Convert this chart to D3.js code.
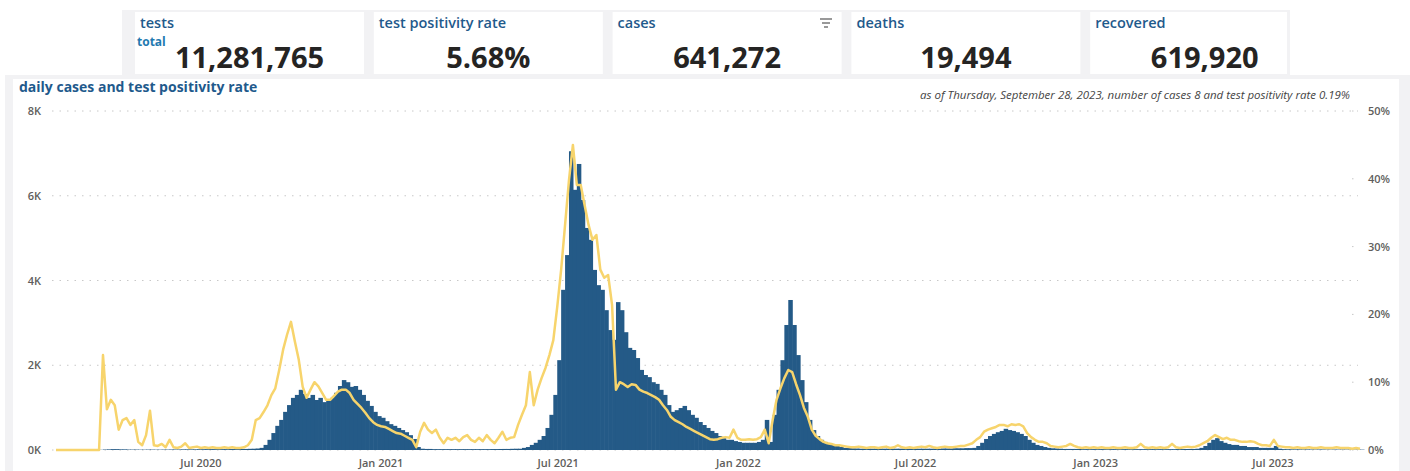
<!DOCTYPE html>
<html>
<head>
<meta charset="utf-8">
<script src="https://cdn.jsdelivr.net/npm/d3@7"></script>
<style>
body { margin: 0; background: #fff; font-family: "Open Sans", sans-serif; }
</style>
</head>
<body>
<div id="chart"></div>
<script>
// kpi cards
var cardTitles = ["tests", "test positivity rate", "cases", "deaths", "recovered"];
var cardValues = ["11,281,765", "5.68%", "641,272", "19,494", "619,920"];

// daily series, one reading every 4 days from 4 Feb 2020
var startDate = new Date(2020, 1, 4);
var stepDays = 4;

var cases = [
  0,0,0,0,0,0,0,0,0,0,0,
  5,10,15,20,20,15,15,10,10,10,
  8,8,10,10,8,8,10,10,12,12,
  12,15,15,15,15,18,18,20,20,20,
  20,20,20,22,22,22,25,25,28,30,
  35,50,120,240,400,570,710,900,1060,1230,
  1300,1420,1320,1230,1300,1180,1230,1130,1180,1230,
  1350,1510,1650,1600,1490,1510,1420,1300,1160,1040,
  900,800,760,680,610,570,520,470,420,350,
  260,70,30,25,25,20,20,20,20,20,
  20,20,20,20,20,20,20,20,20,20,
  22,22,24,25,25,28,30,30,50,70,
  120,170,240,330,520,830,1300,2120,3780,4600,
  7050,6140,6750,5900,5240,4960,4250,3890,3780,3300,
  2830,2600,3490,3300,2780,2410,2360,2170,1890,1770,
  1720,1600,1560,1420,1300,1060,900,940,990,1040,
  940,830,760,660,590,520,450,400,330,280,
  240,240,210,190,170,170,170,170,190,240,
  710,190,830,1420,2120,2950,3540,2950,2240,1650,
  1130,710,470,330,240,190,140,120,95,70,
  50,45,40,35,30,30,30,30,30,30,
  30,30,30,30,30,30,30,30,30,30,
  30,30,30,30,30,35,35,35,40,40,
  40,45,45,50,95,170,260,330,380,420,
  450,500,470,450,420,380,330,240,170,120,
  95,70,50,40,35,30,25,25,25,25,
  25,20,20,20,20,20,20,20,20,20,
  20,20,20,20,20,20,20,20,20,20,
  20,20,20,20,20,22,22,24,25,25,
  30,50,95,170,240,280,210,170,140,120,
  120,95,95,70,70,70,50,50,50,50,
  95,30,20,18,16,15,15,14,14,12,
  12,12,12,10,10,10,10,10,10,9,
  9,8,8
];

var positivity = [
  0,0,0,0,0,0,0,0,0,0,0,0,
  14,6,7.4,6.6,3,4.4,4.7,3.7,4.4,
  1.2,0.7,2.2,5.8,0.7,0.6,0.9,0.4,1.5,0.4,
  0.3,0.5,1.0,0.3,0.4,0.5,0.3,0.4,0.3,0.4,
  0.3,0.3,0.4,0.3,0.4,0.3,0.3,0.4,0.7,1.5,
  4.4,4.7,5.6,6.6,8.1,9.1,11.8,14.8,17.0,18.9,
  16,13.3,9.3,7.7,8.9,10,9.4,8.4,7.4,7.4,
  8,8.6,8.9,8.9,8.4,7.4,6.8,6.2,5.5,4.7,
  4.1,3.7,3.5,3.4,3.1,2.8,2.5,2.4,2.1,1.8,
  1.5,0.4,2.7,4.0,3.0,2.5,3.0,1.8,1.0,1.8,
  1.5,1.8,1.3,1.9,2.2,1.5,1.2,1.8,1.3,2.2,
  1.5,1.0,1.8,2.7,1.5,1.8,1.9,3.7,5.2,6.6,
  11.5,6.6,8.9,10.6,12.1,14.0,16.2,21.1,26.6,33.2,
  39.8,45.0,39.1,39.1,36.1,33.2,31,31.7,26.6,25.4,
  25.8,21.4,8.9,10,9.7,9.3,9.7,9.6,8.9,8.6,
  8.4,8.1,7.8,7.4,6.6,5.9,4.9,4.4,4.1,3.8,
  3.4,3.1,2.8,2.5,2.2,1.9,1.6,1.5,1.6,1.8,
  1.9,1.8,3.0,1.8,1.5,1.5,1.6,1.5,1.6,1.9,
  3.0,1.0,4.4,7.4,9.1,10.6,11.8,11.5,9.7,8.1,
  6.2,4.9,3.0,2.1,1.6,1.2,1.0,0.9,0.7,0.7,
  0.6,0.5,0.4,0.4,0.5,0.4,0.3,0.4,0.4,0.3,
  0.4,0.5,0.3,0.4,0.7,0.4,0.3,0.4,0.3,0.4,
  0.5,0.4,0.6,0.4,0.3,0.4,0.5,0.4,0.4,0.5,
  0.6,0.6,0.8,1.0,1.5,1.9,2.7,3.0,3.2,3.4,
  3.7,3.7,3.5,3.8,3.7,3.8,3.5,2.5,1.9,1.5,
  1.2,1.2,1.0,0.6,0.5,0.4,0.5,0.6,0.9,0.6,
  0.4,0.3,0.4,0.3,0.4,0.3,0.4,0.3,0.3,0.4,
  0.3,0.3,0.4,0.3,0.3,0.4,0.9,0.4,0.3,0.4,
  0.3,0.4,0.3,0.4,0.9,0.4,0.3,0.4,0.5,0.4,
  0.5,0.7,1.0,1.3,1.8,2.2,1.9,1.6,1.8,1.5,
  1.5,1.3,1.2,1.2,1.3,1.2,0.9,0.7,0.7,0.6,
  1.5,0.6,0.5,0.4,0.4,0.3,0.4,0.3,0.3,0.4,
  0.3,0.3,0.4,0.3,0.3,0.3,0.4,0.3,0.3,0.3,
  0.2,0.3,0.19
];

var caseTicks = [0, 2000, 4000, 6000, 8000];
var rateTicks = [0, 10, 20, 30, 40, 50];
var dateTicks = ["2020-07-01", "2021-01-01", "2021-07-01", "2022-01-01", "2022-07-01", "2023-01-01", "2023-07-01"];

var W = 1410, H = 471;
var blue = "#245a87", yellow = "#f7d46c", titleBlue = "#1f5a8c";

var svg = d3.select("#chart").append("svg")
  .attr("width", W).attr("height", H);

// backgrounds
svg.append("rect").attr("x", 122).attr("y", 10).attr("width", 1168).attr("height", 68).attr("fill", "#f2f2f4");
svg.append("rect").attr("x", 5).attr("y", 75).attr("width", W - 5).attr("height", H - 75).attr("fill", "#f2f2f4");
svg.append("rect").attr("x", 13).attr("y", 79).attr("width", 1386).attr("height", H - 79).attr("fill", "#fff");

// cards
var card = svg.selectAll("g.card")
  .data(cardTitles)
  .enter().append("g")
  .attr("class", "card")
  .attr("transform", function(d, i) { return "translate(" + (135 + i * 238.8) + ",12)"; });

card.append("rect")
  .attr("width", function(d, i) { return Math.min(229, 1287 - (135 + i * 238.8)); })
  .attr("height", 62).attr("fill", "#fff");

card.append("text")
  .attr("x", 5).attr("y", 16)
  .attr("fill", titleBlue)
  .style("font-size", "14.5px").style("font-weight", 600)
  .text(function(d) { return d; });

card.append("text")
  .attr("x", 114.5).attr("y", 56)
  .attr("text-anchor", "middle")
  .attr("fill", "#252423")
  .style("font-size", "29px").style("font-weight", 700)
  .text(function(d, i) { return cardValues[i]; });

svg.append("text").attr("x", 137).attr("y", 46)
  .attr("fill", "#1f7ab0").style("font-size", "12px").style("font-weight", 700)
  .text("total");

// filter icon on cases card
var fx = 826;
[[19, 12], [23, 8], [27, 4]].forEach(function(l) {
  svg.append("line").attr("x1", fx - l[1] / 2).attr("x2", fx + l[1] / 2)
    .attr("y1", l[0]).attr("y2", l[0]).attr("stroke", "#555").attr("stroke-width", 1.2);
});

// chart titles
svg.append("text").attr("x", 19).attr("y", 92)
  .attr("fill", titleBlue).style("font-size", "14px").style("font-weight", 700)
  .text("daily cases and test positivity rate");

svg.append("text").attr("x", 1350).attr("y", 99)
  .attr("text-anchor", "end").attr("fill", "#444")
  .style("font-size", "11.5px").style("font-style", "italic")
  .text("as of Thursday, September 28, 2023, number of cases 8 and test positivity rate 0.19%");

// scales
var dates = cases.map(function(d, i) { return d3.timeDay.offset(startDate, i * stepDays); });
var x = d3.scaleTime()
  .domain([startDate, new Date(2023, 8, 28)])
  .range([56, 1360]);
var y = d3.scaleLinear().domain([0, 8000]).range([450, 111]);
var y2 = d3.scaleLinear().domain([0, 50]).range([450, 111]);

// grid
svg.selectAll("line.grid")
  .data(caseTicks)
  .enter().append("line")
  .attr("class", "grid")
  .attr("x1", 52).attr("x2", 1358)
  .attr("y1", function(d) { return y(d); }).attr("y2", function(d) { return y(d); })
  .attr("stroke", "#c8c8c8").attr("stroke-dasharray", "1.5,6");

svg.selectAll("line.rtick")
  .data(rateTicks)
  .enter().append("line")
  .attr("class", "rtick")
  .attr("x1", 1352).attr("x2", 1358)
  .attr("y1", function(d) { return y2(d); }).attr("y2", function(d) { return y2(d); })
  .attr("stroke", "#c8c8c8").attr("stroke-dasharray", "1.5,6");

// axis labels
svg.selectAll("text.ly")
  .data(caseTicks)
  .enter().append("text")
  .attr("class", "ly")
  .attr("x", 41).attr("y", function(d) { return y(d) + 4; })
  .attr("text-anchor", "end").attr("fill", "#605e5c")
  .style("font-size", "11px").style("font-weight", 600)
  .text(function(d) { return (d / 1000) + "K"; });

svg.selectAll("text.ry")
  .data(rateTicks)
  .enter().append("text")
  .attr("class", "ry")
  .attr("x", 1368).attr("y", function(d) { return y2(d) + 4; })
  .attr("fill", "#605e5c")
  .style("font-size", "11px").style("font-weight", 600)
  .text(function(d) { return d + "%"; });

var fmt = d3.timeFormat("%b %Y");
svg.selectAll("text.xl")
  .data(dateTicks)
  .enter().append("text")
  .attr("class", "xl")
  .attr("x", function(d) { return x(new Date(d + "T00:00")); })
  .attr("y", 467)
  .attr("text-anchor", "middle").attr("fill", "#605e5c")
  .style("font-size", "11px").style("font-weight", 600)
  .text(function(d) { return fmt(new Date(d + "T00:00")); });

// bars (slight overlap so neighbouring bars read as one filled shape)
svg.append("g").selectAll("rect")
  .data(cases)
  .enter().append("rect")
  .attr("x", function(d, i) { return x(dates[i]); })
  .attr("width", function(d, i) { return x(d3.timeDay.offset(dates[i], stepDays)) - x(dates[i]) + 0.6; })
  .attr("y", function(d) { return y(d); })
  .attr("height", function(d) { return y(0) - y(d); })
  .attr("fill", blue);

// positivity line
var line = d3.line()
  .x(function(d, i) { return x(dates[i]); })
  .y(function(d) { return y2(d); });

svg.append("path")
  .datum(positivity)
  .attr("d", line)
  .attr("fill", "none")
  .attr("stroke", yellow)
  .attr("stroke-width", 2.5)
  .attr("stroke-linejoin", "round");
</script>
</body>
</html>
